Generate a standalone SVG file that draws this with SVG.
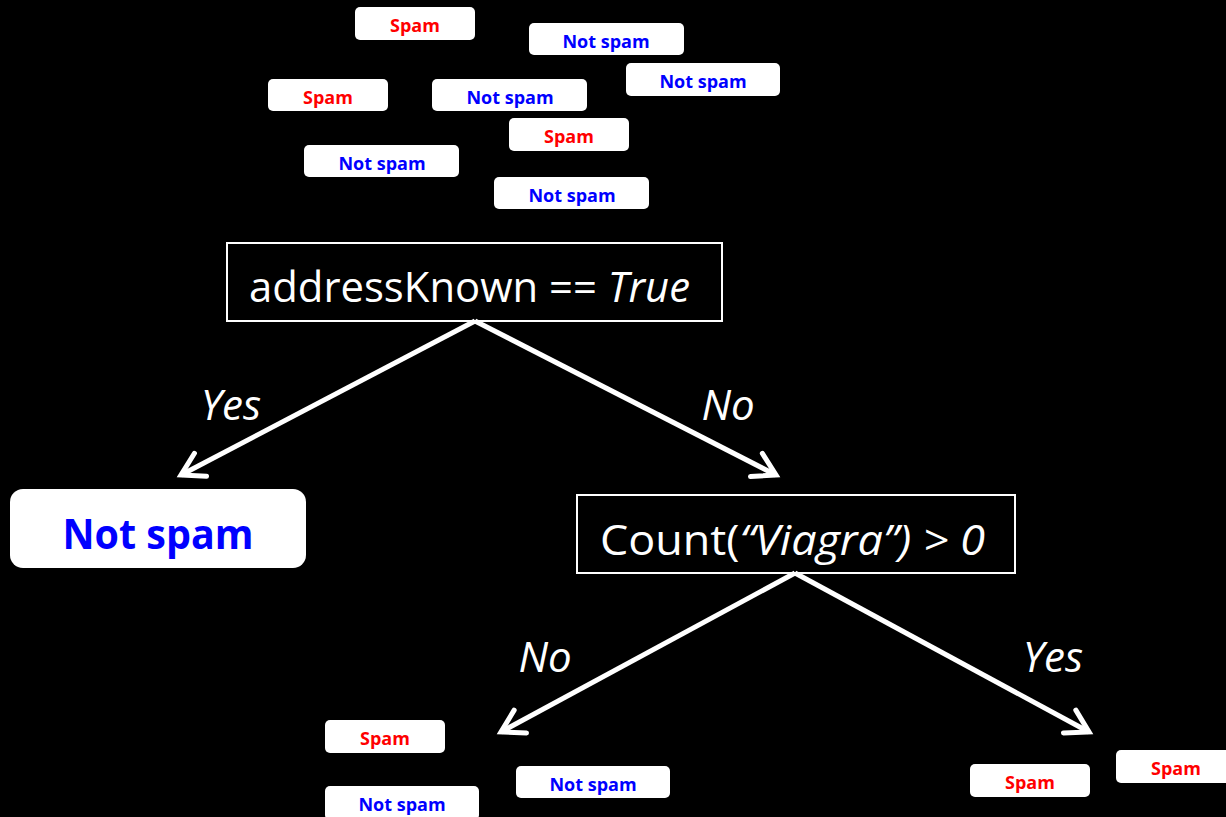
<svg xmlns="http://www.w3.org/2000/svg" width="1226" height="817" viewBox="0 0 1226 817">
  <style>
    .chip { fill: #ffffff; }
    .lbl { font-family: "Open Sans", "Noto Sans", sans-serif; font-weight: bold; font-size: 18px; text-anchor: middle; }
    .spam { fill: #ff0000; }
    .ham { fill: #0000ff; }
    .test { fill: #000000; stroke: #ffffff; stroke-width: 2; }
    .testtxt { font-family: "Open Sans", "Noto Sans", sans-serif; font-size: 42px; fill: #ffffff; }
    .edge { stroke: #ffffff; stroke-width: 5; fill: none; marker-end: url(#chev); }
    .edgetxt { font-family: "Open Sans", "Noto Sans", sans-serif; font-style: italic; font-size: 42px; fill: #ffffff; text-anchor: middle; }
  </style>
  <defs>
    <marker id="chev" markerUnits="userSpaceOnUse" markerWidth="40" markerHeight="40" viewBox="-30 -20 40 40" refX="0" refY="0" orient="auto">
      <path d="M -22 -13 L 0 0 L -22 13" fill="none" stroke="#ffffff" stroke-width="5" stroke-linecap="round" stroke-linejoin="miter"/>
    </marker>
  </defs>
  <rect width="1226" height="817" fill="#000000"/>

  <!-- unsorted training emails -->
  <g id="pool">
    <g id="e1"><rect class="chip" x="355" y="7" width="120" height="33" rx="5"/><text class="lbl spam" x="415" y="32">Spam</text></g>
    <g id="e2"><rect class="chip" x="529" y="23" width="155" height="32" rx="5"/><text class="lbl ham" x="606" y="48">Not spam</text></g>
    <g id="e3"><rect class="chip" x="626" y="63" width="154" height="33" rx="5"/><text class="lbl ham" x="703" y="88">Not spam</text></g>
    <g id="e4"><rect class="chip" x="268" y="79" width="120" height="32" rx="5"/><text class="lbl spam" x="328" y="104">Spam</text></g>
    <g id="e5"><rect class="chip" x="432" y="79" width="155" height="32" rx="5"/><text class="lbl ham" x="510" y="104">Not spam</text></g>
    <g id="e6"><rect class="chip" x="509" y="118" width="120" height="33" rx="5"/><text class="lbl spam" x="569" y="143">Spam</text></g>
    <g id="e7"><rect class="chip" x="304" y="145" width="155" height="32" rx="5"/><text class="lbl ham" x="382" y="170">Not spam</text></g>
    <g id="e8"><rect class="chip" x="494" y="177" width="155" height="32" rx="5"/><text class="lbl ham" x="572" y="202">Not spam</text></g>
  </g>

  <!-- root test -->
  <g id="root">
    <rect class="test" x="227" y="243" width="495" height="78"/>
    <text class="testtxt" x="249" y="302" textLength="441" lengthAdjust="spacingAndGlyphs">addressKnown == <tspan font-style="italic">True</tspan></text>
  </g>

  <!-- leaf: known sender -->
  <g id="leaf-known">
    <rect x="10" y="489" width="296" height="79" rx="13" fill="#ffffff"/>
    <text x="158" y="549" font-family="Open Sans, Noto Sans, sans-serif" font-weight="bold" font-size="42" fill="#0000ff" text-anchor="middle" textLength="191" lengthAdjust="spacingAndGlyphs">Not spam</text>
  </g>

  <!-- second test -->
  <g id="viagra">
    <rect class="test" x="577" y="495" width="438" height="78"/>
    <text class="testtxt" x="600" y="555" textLength="385" lengthAdjust="spacingAndGlyphs">Count(<tspan font-style="italic">“Viagra”) &gt; 0</tspan></text>
  </g>

  <!-- leaf groups -->
  <g id="leaf-no">
    <g><rect class="chip" x="325" y="720" width="120" height="33" rx="5"/><text class="lbl spam" x="385" y="745">Spam</text></g>
    <g><rect class="chip" x="516" y="766" width="154" height="32" rx="5"/><text class="lbl ham" x="593" y="791">Not spam</text></g>
    <g><rect class="chip" x="325" y="786" width="154" height="34" rx="5"/><text class="lbl ham" x="402" y="811">Not spam</text></g>
  </g>
  <g id="leaf-yes">
    <g><rect class="chip" x="970" y="764" width="120" height="33" rx="5"/><text class="lbl spam" x="1030" y="789">Spam</text></g>
    <g><rect class="chip" x="1116" y="750" width="120" height="33" rx="5"/><text class="lbl spam" x="1176" y="775">Spam</text></g>
  </g>

  <!-- branches -->
  <g id="edges">
    <line class="edge" x1="475" y1="321" x2="181" y2="475"/>
    <line class="edge" x1="475" y1="321" x2="776" y2="475"/>
    <line class="edge" x1="795" y1="573" x2="501" y2="732"/>
    <line class="edge" x1="795" y1="573" x2="1089" y2="732"/>
    <text class="edgetxt" x="231" y="420">Yes</text>
    <text class="edgetxt" x="728" y="420">No</text>
    <text class="edgetxt" x="545" y="672">No</text>
    <text class="edgetxt" x="1053" y="672">Yes</text>
  </g>
</svg>
